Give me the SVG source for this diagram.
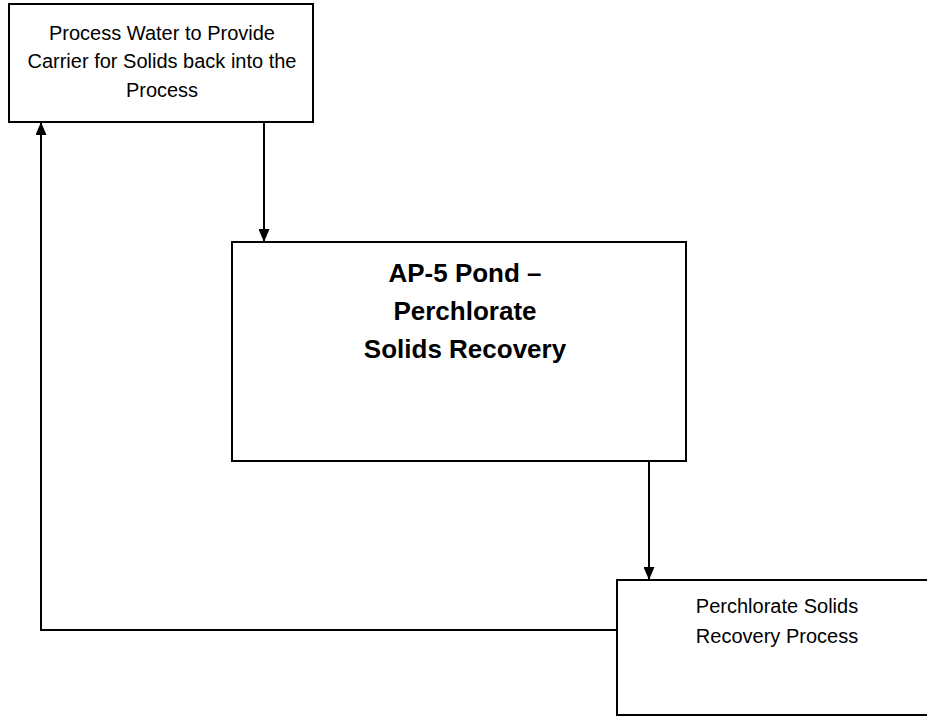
<svg xmlns="http://www.w3.org/2000/svg" width="927" height="717" viewBox="0 0 927 717">
<defs>
<marker id="ah" viewBox="0 0 13 11" refX="13" refY="5.5" markerWidth="13" markerHeight="11" markerUnits="userSpaceOnUse" orient="auto">
<path d="M0,0 L13,5.5 L0,11 Z" fill="#000"/>
</marker>
<style>
.box{fill:#fff;stroke:#000;stroke-width:2}
.t{font-family:"Liberation Sans",Arial,sans-serif;font-size:20px;fill:#000;text-anchor:middle}
.tb{font-family:"Liberation Sans",Arial,sans-serif;font-size:26px;font-weight:bold;fill:#000;text-anchor:middle}
.c{fill:none;stroke:#000;stroke-width:2}
</style>
</defs>
<rect width="927" height="717" fill="#fff"/>
<g id="connectors">
<path class="c" d="M264,122 V242" marker-end="url(#ah)"/>
<path class="c" d="M649,461 V580" marker-end="url(#ah)"/>
<path class="c" d="M617,630 H41 V122" marker-end="url(#ah)"/>
</g>
<g id="node-process-water">
<rect class="box" x="9" y="4" width="304" height="118"/>
<text class="t" x="162" y="40">Process Water to Provide</text>
<text class="t" x="162" y="68">Carrier for Solids back into the</text>
<text class="t" x="162" y="97">Process</text>
</g>
<g id="node-ap5-pond">
<rect class="box" x="232" y="242" width="454" height="219"/>
<text class="tb" x="465" y="282">AP-5 Pond –</text>
<text class="tb" x="465" y="320">Perchlorate</text>
<text class="tb" x="465" y="358">Solids Recovery</text>
</g>
<g id="node-recovery-process">
<rect class="box" x="617" y="580" width="320" height="135"/>
<text class="t" x="777" y="613">Perchlorate Solids</text>
<text class="t" x="777" y="643">Recovery Process</text>
</g>
</svg>
